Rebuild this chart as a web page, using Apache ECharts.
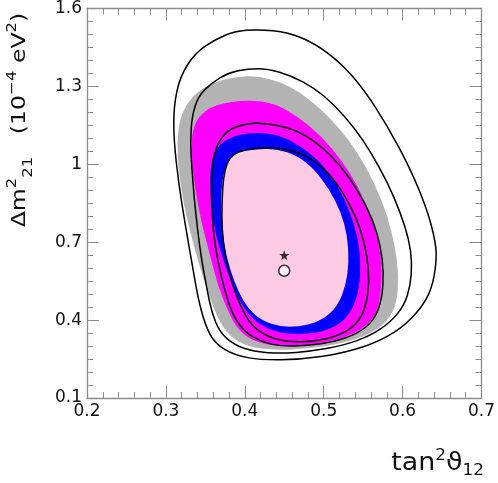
<!DOCTYPE html>
<html>
<head>
<meta charset="utf-8">
<script src="https://cdn.jsdelivr.net/npm/echarts@6/dist/echarts.min.js"></script>
<style>
  html, body { margin: 0; padding: 0; background: #fff; }
  #chart { width: 498px; height: 483px; }
</style>
</head>
<body>
<div id="chart"></div>
<script>
// axis ranges (tan^2 theta12, dm2_21 in 1e-4 eV^2)
const xRange = [0.2, 0.7];
const yRange = [0.1, 1.6];

// best fit points
const starPoint = [[0.45, 0.65]];
const circlePoint = [[0.45, 0.59]];

// filled regions
const grayRegion = [
  [0.417, 1.341], [0.455, 1.307], [0.488, 1.237], [0.518, 1.147], [0.543, 1.045],
  [0.564, 0.930], [0.581, 0.802], [0.591, 0.674], [0.595, 0.572], [0.593, 0.469],
  [0.581, 0.393], [0.555, 0.341], [0.522, 0.309], [0.480, 0.290], [0.438, 0.284],
  [0.404, 0.297], [0.379, 0.341], [0.364, 0.418], [0.352, 0.520], [0.341, 0.623],
  [0.331, 0.738], [0.322, 0.853], [0.316, 0.981], [0.314, 1.083], [0.318, 1.185],
  [0.333, 1.262], [0.354, 1.307], [0.383, 1.336]
];
const magentaRegion = [
  [0.404, 1.249], [0.438, 1.234], [0.467, 1.185], [0.497, 1.109], [0.522, 1.019],
  [0.543, 0.917], [0.560, 0.802], [0.570, 0.699], [0.574, 0.597], [0.572, 0.482],
  [0.564, 0.405], [0.543, 0.354], [0.513, 0.320], [0.480, 0.302], [0.446, 0.299],
  [0.413, 0.314], [0.392, 0.361], [0.379, 0.431], [0.366, 0.533], [0.356, 0.648],
  [0.345, 0.776], [0.337, 0.904], [0.332, 1.032], [0.333, 1.121], [0.341, 1.185],
  [0.362, 1.230]
];
const blueRegion = [
  [0.408, 1.124], [0.442, 1.115], [0.471, 1.070], [0.497, 1.006], [0.518, 0.917],
  [0.532, 0.827], [0.543, 0.725], [0.547, 0.623], [0.545, 0.520], [0.537, 0.444],
  [0.522, 0.386], [0.497, 0.354], [0.467, 0.344], [0.438, 0.354], [0.413, 0.393],
  [0.396, 0.457], [0.381, 0.559], [0.368, 0.674], [0.360, 0.776], [0.356, 0.879],
  [0.356, 0.981], [0.362, 1.058], [0.379, 1.102]
];
const pinkRegion = [
  [0.417, 1.060], [0.442, 1.058], [0.467, 1.032], [0.488, 0.981], [0.507, 0.904],
  [0.522, 0.815], [0.530, 0.725], [0.532, 0.623], [0.528, 0.533], [0.518, 0.457],
  [0.501, 0.405], [0.476, 0.377], [0.446, 0.373], [0.421, 0.399], [0.404, 0.444],
  [0.392, 0.508], [0.381, 0.597], [0.373, 0.699], [0.370, 0.802], [0.370, 0.904],
  [0.375, 0.994], [0.387, 1.045]
];

// black contour lines
const contour1 = [
  [0.417, 1.520], [0.455, 1.508], [0.488, 1.467], [0.522, 1.390], [0.551, 1.288],
  [0.581, 1.147], [0.610, 0.981], [0.631, 0.827], [0.642, 0.700], [0.643, 0.623],
  [0.637, 0.520], [0.623, 0.444], [0.598, 0.367], [0.564, 0.310], [0.522, 0.271],
  [0.471, 0.248], [0.421, 0.246], [0.387, 0.265], [0.362, 0.310], [0.350, 0.380],
  [0.341, 0.480], [0.333, 0.620], [0.324, 0.776], [0.316, 0.930], [0.310, 1.096],
  [0.310, 1.224], [0.318, 1.339], [0.337, 1.428], [0.362, 1.480], [0.387, 1.512]
];
const contour2 = [
  [0.404, 1.368], [0.429, 1.368], [0.459, 1.341], [0.488, 1.294], [0.513, 1.230],
  [0.539, 1.141], [0.560, 1.045], [0.581, 0.930], [0.597, 0.815], [0.608, 0.712],
  [0.612, 0.623], [0.610, 0.533], [0.602, 0.457], [0.585, 0.393], [0.560, 0.341],
  [0.526, 0.303], [0.484, 0.280], [0.446, 0.271], [0.413, 0.278], [0.387, 0.303],
  [0.368, 0.354], [0.358, 0.431], [0.352, 0.520], [0.345, 0.636], [0.340, 0.751],
  [0.336, 0.866], [0.333, 0.981], [0.331, 1.083], [0.333, 1.185], [0.341, 1.262],
  [0.358, 1.313], [0.379, 1.352]
];
const contour3 = [
  [0.417, 1.162], [0.459, 1.141], [0.492, 1.083], [0.522, 0.994], [0.545, 0.891],
  [0.562, 0.789], [0.572, 0.687], [0.576, 0.584], [0.574, 0.482], [0.564, 0.399],
  [0.543, 0.348], [0.513, 0.316], [0.480, 0.301], [0.446, 0.299], [0.421, 0.316],
  [0.400, 0.354], [0.385, 0.418], [0.375, 0.508], [0.366, 0.623], [0.360, 0.738],
  [0.358, 0.853], [0.358, 0.955], [0.361, 1.045], [0.371, 1.109], [0.387, 1.147]
];
const contour4 = [
  [0.417, 1.064], [0.442, 1.064], [0.471, 1.045], [0.497, 0.994], [0.518, 0.923],
  [0.534, 0.840], [0.547, 0.751], [0.555, 0.648], [0.558, 0.546], [0.553, 0.444],
  [0.541, 0.380], [0.518, 0.339], [0.488, 0.318], [0.455, 0.316], [0.429, 0.335],
  [0.408, 0.380], [0.394, 0.457], [0.383, 0.546], [0.375, 0.648], [0.371, 0.751],
  [0.371, 0.853], [0.373, 0.955], [0.379, 1.019], [0.392, 1.051]
];

const fontName = "DejaVu Sans";
const axisGray = "#8c8c8c";
const textColor = "#111";

// closed curve through the midpoints, the traced points act as control points
function closedCurve(pixels) {
  const n = pixels.length;
  const mid = (a, b) => [(a[0] + b[0]) / 2, (a[1] + b[1]) / 2];
  const start = mid(pixels[n - 1], pixels[0]);
  let d = "M" + start[0] + "," + start[1];
  for (let i = 0; i < n; i++) {
    const p = pixels[i];
    const m = mid(p, pixels[(i + 1) % n]);
    d += "Q" + p[0] + "," + p[1] + " " + m[0] + "," + m[1];
  }
  return d + "Z";
}

function regionSeries(name, pts, style, z) {
  return {
    type: "custom",
    name: name,
    z: z,
    silent: true,
    data: pts,
    renderItem: (params, api) => {
      if (params.dataIndex !== 0) return null;
      const pixels = pts.map((p) => api.coord(p));
      return {
        type: "path",
        shape: { pathData: closedCurve(pixels) },
        style: style,
      };
    },
  };
}

function makeXAxis(position, showLabels) {
  return {
    type: "value",
    position: position,
    min: xRange[0],
    max: xRange[1],
    interval: 0.1,
    axisLine: { show: true, lineStyle: { color: axisGray, width: 1.3 } },
    axisTick: { show: true, inside: true, length: 12, lineStyle: { color: axisGray } },
    minorTick: { show: true, splitNumber: 5, length: 6, lineStyle: { color: axisGray } },
    splitLine: { show: false },
    axisLabel: {
      show: showLabels,
      margin: 5,
      fontFamily: fontName,
      fontSize: 17,
      color: textColor,
      showMinLabel: true,
      showMaxLabel: true,
    },
  };
}

function makeYAxis(position, showLabels) {
  return {
    type: "value",
    position: position,
    min: yRange[0],
    max: yRange[1],
    interval: 0.3,
    axisLine: { show: true, lineStyle: { color: axisGray, width: 1.3 } },
    axisTick: { show: true, inside: true, length: 12, lineStyle: { color: axisGray } },
    minorTick: { show: true, splitNumber: 6, length: 6, lineStyle: { color: axisGray } },
    splitLine: { show: false },
    axisLabel: {
      show: showLabels,
      margin: 5,
      fontFamily: fontName,
      fontSize: 17,
      color: textColor,
      showMinLabel: true,
      showMaxLabel: true,
    },
  };
}

const chart = echarts.init(document.getElementById("chart"), null, { renderer: "canvas" });

const option = {
  animation: false,
  backgroundColor: "#fff",
  grid: { left: 87, right: 14, top: 7, bottom: 85 },
  xAxis: [makeXAxis("bottom", true), makeXAxis("top", false)],
  yAxis: [makeYAxis("left", true), makeYAxis("right", false)],
  graphic: [
    {
      type: "text",
      x: 484,
      y: 464,
      scaleX: 1.12,
      style: {
        text: "{n|tan}{sup|2}{n|ϑ}{sub|12}",
        align: "right",
        verticalAlign: "middle",
        rich: {
          n: { fontFamily: fontName, fontSize: 24, fill: textColor, lineHeight: 30 },
          sup: { fontFamily: fontName, fontSize: 15, fill: textColor, verticalAlign: "top", lineHeight: 30 },
          sub: { fontFamily: fontName, fontSize: 15, fill: textColor, verticalAlign: "bottom", lineHeight: 30 },
        },
      },
    },
    {
      type: "text",
      x: 20,
      y: 120,
      rotation: Math.PI / 2,
      scaleX: 1.18,
      style: {
        text: "{n|Δm}{sup|2}{sub|21}{n|   (10}{sup|−4}{n| eV}{sup|2}{n|)}",
        align: "center",
        verticalAlign: "middle",
        rich: {
          n: { fontFamily: fontName, fontSize: 20, fill: textColor, lineHeight: 30 },
          sup: { fontFamily: fontName, fontSize: 14, fill: textColor, verticalAlign: "top", lineHeight: 30 },
          sub: { fontFamily: fontName, fontSize: 14, fill: textColor, verticalAlign: "bottom", lineHeight: 30 },
        },
      },
    },
  ],
  series: [
    regionSeries("gray", grayRegion, { fill: "#b3b3b3" }, 1),
    regionSeries("magenta", magentaRegion, { fill: "#ff00ff" }, 2),
    regionSeries("blue", blueRegion, { fill: "#0000ff" }, 3),
    regionSeries("pink", pinkRegion, { fill: "#ffcae4" }, 4),
    regionSeries("c1", contour1, { fill: "none", stroke: "#000", lineWidth: 1.5 }, 5),
    regionSeries("c2", contour2, { fill: "none", stroke: "#000", lineWidth: 1.5 }, 5),
    regionSeries("c3", contour3, { fill: "none", stroke: "#000", lineWidth: 1.5 }, 5),
    regionSeries("c4", contour4, { fill: "none", stroke: "#000", lineWidth: 1.5 }, 5),
    {
      type: "scatter",
      z: 6,
      data: starPoint,
      symbol: "path://M0,-10L2.35,-3.24L9.51,-3.09L3.8,1.24L5.88,8.09L0,4L-5.88,8.09L-3.8,1.24L-9.51,-3.09L-2.35,-3.24Z",
      symbolSize: 10,
      itemStyle: { color: "#000" },
    },
    {
      type: "scatter",
      z: 6,
      data: circlePoint,
      symbol: "circle",
      symbolSize: 11,
      itemStyle: { color: "#fff", borderColor: "#000", borderWidth: 1.5 },
    },
  ],
};

chart.setOption(option);
</script>
</body>
</html>
